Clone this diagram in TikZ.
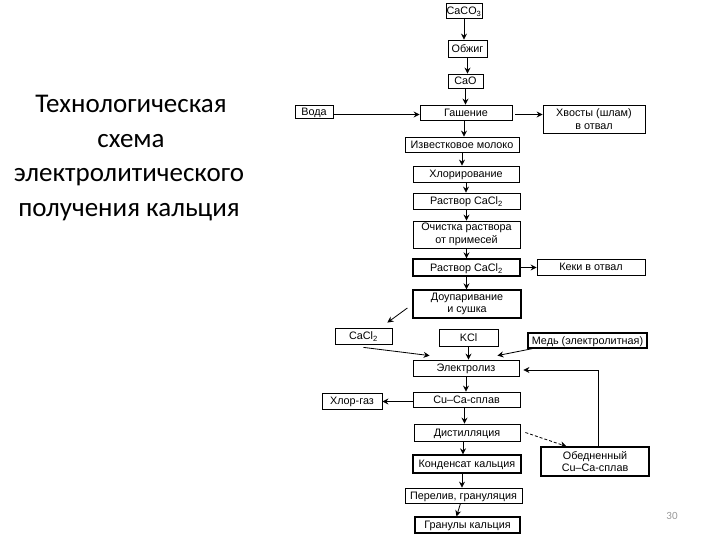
\documentclass[tikz,border=0pt]{standalone}
\usepackage{fontspec}
\setmainfont{Liberation Sans}
\newfontfamily\titlefont{Carlito}
\usetikzlibrary{arrows.meta,calc}
\begin{document}
\begin{tikzpicture}[x=1pt,y=-1pt,
  box/.style={draw, line width=0.8pt, inner sep=0pt, align=center,
    font=\fontsize{10.8}{12.5}\selectfont},
  bx/.style 2 args={box, minimum width=#1, minimum height=#2, text height=7.8pt, text depth=0pt},
  bxx/.style 2 args={box, minimum width=#1, minimum height=#2},
  heavy/.style={line width=1.3pt},
  arr/.style={line width=0.8pt, -{Stealth[length=6pt,width=6pt,inset=2pt]}},
  ttl/.style={anchor=base, inner sep=0pt, font=\titlefont\fontsize{27}{34}\selectfont}
]
\useasboundingbox (0,0) rectangle (720,540);
% title
\node[ttl] (t1) at (131,113) {Технологическая};
\node[ttl] (t2) at (131,148) {схема};
\node[ttl] (t3) at (129,182) {электролитического};
\node[ttl] (t4) at (129,217) {получения кальция};
\node[anchor=base, inner sep=0pt, text=black!40, font=\titlefont\fontsize{11}{13}\selectfont] (pg) at (672,519) {30};
% boxes
\node[bx={36}{15}] (caco3) at (464,10.5) {CaCO\textsubscript{3}};
\node[bx={39}{17}] (obzhig) at (467.5,48.5) {Обжиг};
\node[bx={35}{14}] (cao) at (465.5,81) {CaO};
\node[bx={38}{13}] (voda) at (314,111.5) {Вода};
\node[bx={92}{15}] (gash) at (466,112.5) {Гашение};
\node[bxx={102}{28}] (hvost) at (594,119) {Хвосты (шлам)\\в отвал};
\node[bx={114}{15}] (izv) at (462,144.5) {Известковое молоко};
\node[bx={106}{16}] (hlor) at (466,174) {Хлорирование};
\node[bx={107}{16}] (rast1) at (466.5,201) {Раствор CaCl\textsubscript{2}};
\node[bxx={107}{27}] (ochist) at (466.5,234.5) {Очистка раствора\\от примесей};
\node[bx={107}{17},heavy] (rast2) at (466.5,267.5) {Раствор CaCl\textsubscript{2}};
\node[bx={108}{16}] (keki) at (591,267) {Кеки в отвал};
\node[bxx={108}{28},heavy] (doup) at (467,304) {Доупаривание\\и сушка};
\node[bx={57}{16}] (cacl) at (363.5,336) {CaCl\textsubscript{2}};
\node[bx={59}{17}] (kcl) at (468.5,337.5) {KCl};
\node[bx={119}{15},heavy] (med) at (587.5,340.5) {Медь (электролитная)};
\node[bx={106}{16}] (elek) at (466,368) {Электролиз};
\node[bx={107}{15}] (cuca) at (466.5,399.5) {Cu--Ca-сплав};
\node[bx={60}{16}] (hlgaz) at (352,401) {Хлор-газ};
\node[bx={106}{17}] (dist) at (467,432.5) {Дистилляция};
\node[bx={108}{18},heavy] (kond) at (467,464) {Конденсат кальция};
\node[bxx={108}{29},heavy] (obed) at (595,461.5) {Обедненный\\Cu--Ca-сплав};
\node[bx={117}{15}] (perel) at (463.5,495.5) {Перелив, грануляция};
\node[bx={105}{16},heavy] (gran) at (467.5,525) {Гранулы кальция};
% vertical arrows
\draw[arr] (caco3.south) -- (caco3.south |- obzhig.north);
\draw[arr] (obzhig.south) -- (obzhig.south |- cao.north);
\draw[arr] (cao.south) -- (cao.south |- gash.north);
\draw[arr] ($(gash.south)+(-2,0)$) -- ($(gash.south |- izv.north)+(-2,0)$);
\draw[arr] (izv.south) -- (izv.south |- hlor.north);
\draw[arr] (hlor.south) -- (hlor.south |- rast1.north);
\draw[arr] (rast1.south) -- (rast1.south |- ochist.north);
\draw[arr] (ochist.south) -- (ochist.south |- rast2.north);
\draw[arr] (rast2.south) -- (rast2.south |- doup.north);
\draw[arr] (kcl.south) -- (kcl.south |- elek.north);
\draw[arr] (elek.south) -- (elek.south |- cuca.north);
\draw[arr] ($(cuca.south)+(-2,0)$) -- ($(cuca.south |- dist.north)+(-2,0)$);
\draw[arr] ($(dist.south)+(-4,0)$) -- ($(dist.south |- kond.north)+(-4,0)$);
\draw[arr] ($(kond.south)+(-5,0)$) -- ($(kond.south |- perel.north)+(-5,0)$);
\draw[arr] ($(perel.south)+(-3,0)$) -- ($(perel.south |- gran.north)+(-7,0)$);
% horizontal arrows
\draw[arr] ($(voda.east)+(0,3)$) -- ($(voda.east -| gash.west)+(0,3)$);
\draw[arr] ($(gash.east)+(3,2)$) -- ($(gash.east -| hvost.west)+(0,2)$);
\draw[arr] (rast2.east) -- (rast2.east -| keki.west);
\draw[arr] ($(cuca.west)+(0,2)$) -- ($(cuca.west -| hlgaz.east)+(0,2)$);
% diagonal arrows
\draw[arr] ($(doup.west)+(-5,4)$) -- ($(cacl.north east)+(-5,-5)$);
\draw[arr] ($(cacl.south)+(0,3)$) -- ($(elek.north west)+(17,-4)$);
\draw[arr] ($(med.south west)+(5,0)$) -- ($(elek.north east)+(-22,-4)$);
\draw[arr, dash pattern=on 3pt off 2pt] ($(dist.east)+(5,0)$) -- ($(obed.north west)+(26,0)$);
% return loop
\draw[arr, shorten >=4pt] ($(obed.north)+(3,0)$) |- ($(elek.east)+(0,2)$);
\end{tikzpicture}
\end{document}
